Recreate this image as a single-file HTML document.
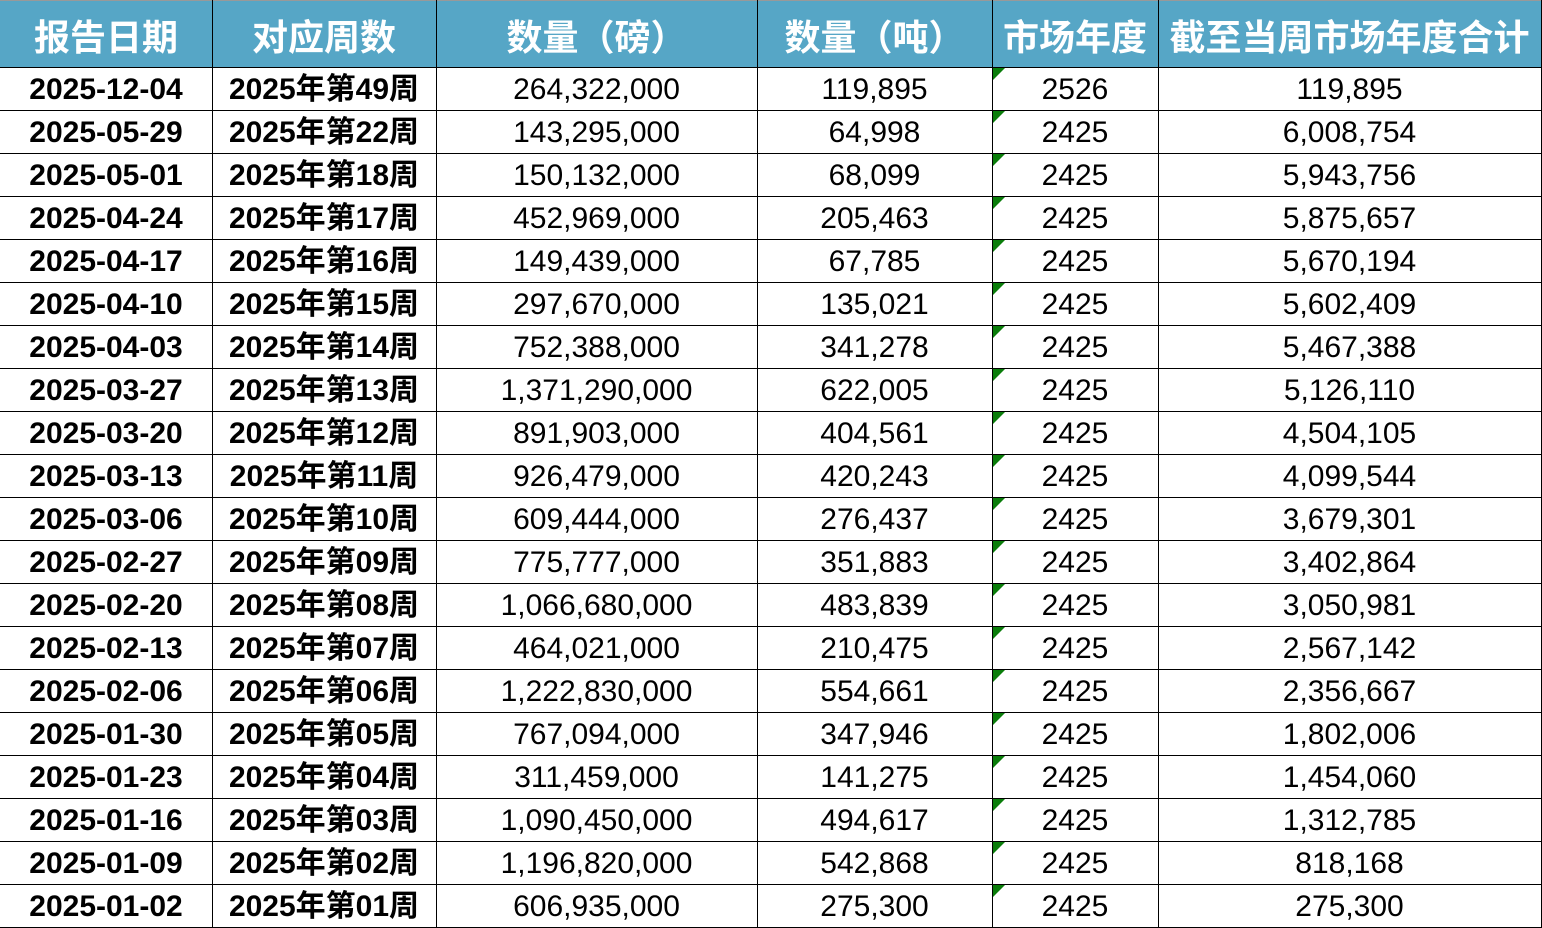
<!DOCTYPE html><html><head><meta charset="utf-8"><style>
body{margin:0;width:1542px;height:928px;background:#fff;overflow:hidden;position:relative;font-family:"Liberation Sans","Noto Sans CJK SC",sans-serif}
.h{position:absolute;top:0;left:0;width:1542px;height:67px;background:#56a6c6;border-top:1px solid #999;box-sizing:border-box}
.c{position:absolute;text-align:center;white-space:nowrap}
.hd{color:#fff;font-weight:bold;font-size:36px;top:9px}
.v{position:absolute;top:0;width:1px;height:928px;background:#000}
.r{position:absolute;left:0;width:1542px;height:1px;background:#000}
.t{position:absolute;width:0;height:0;border-top:12px solid #0a7d0a;border-right:12px solid transparent;left:993px}
.d{font-size:30px;line-height:43px}
.b{font-weight:bold}
</style></head><body>
<div class="h"></div>
<div id="g"></div>
<script>
var cols=[0,212,436,757,992,1158,1541];
var hd=["报告日期","对应周数","数量（磅）","数量（吨）","市场年度","截至当周市场年度合计"];
var data=[["2025-12-04","2025年第49周","264,322,000","119,895","2526","119,895"],
["2025-05-29","2025年第22周","143,295,000","64,998","2425","6,008,754"],
["2025-05-01","2025年第18周","150,132,000","68,099","2425","5,943,756"],
["2025-04-24","2025年第17周","452,969,000","205,463","2425","5,875,657"],
["2025-04-17","2025年第16周","149,439,000","67,785","2425","5,670,194"],
["2025-04-10","2025年第15周","297,670,000","135,021","2425","5,602,409"],
["2025-04-03","2025年第14周","752,388,000","341,278","2425","5,467,388"],
["2025-03-27","2025年第13周","1,371,290,000","622,005","2425","5,126,110"],
["2025-03-20","2025年第12周","891,903,000","404,561","2425","4,504,105"],
["2025-03-13","2025年第11周","926,479,000","420,243","2425","4,099,544"],
["2025-03-06","2025年第10周","609,444,000","276,437","2425","3,679,301"],
["2025-02-27","2025年第09周","775,777,000","351,883","2425","3,402,864"],
["2025-02-20","2025年第08周","1,066,680,000","483,839","2425","3,050,981"],
["2025-02-13","2025年第07周","464,021,000","210,475","2425","2,567,142"],
["2025-02-06","2025年第06周","1,222,830,000","554,661","2425","2,356,667"],
["2025-01-30","2025年第05周","767,094,000","347,946","2425","1,802,006"],
["2025-01-23","2025年第04周","311,459,000","141,275","2425","1,454,060"],
["2025-01-16","2025年第03周","1,090,450,000","494,617","2425","1,312,785"],
["2025-01-09","2025年第02周","1,196,820,000","542,868","2425","818,168"],
["2025-01-02","2025年第01周","606,935,000","275,300","2425","275,300"]];
var h="";
for(var i=0;i<6;i++){h+='<div class="c hd" style="left:'+cols[i]+'px;width:'+(cols[i+1]-cols[i])+'px">'+hd[i]+'</div>';}
for(var i=1;i<6;i++)h+='<div class="v" style="left:'+cols[i]+'px"></div>';
h+='<div class="v" style="left:1541px"></div>';
for(var r=0;r<20;r++){var y=67+r*43;
h+='<div class="r" style="top:'+y+'px"></div>';
h+='<div class="t" style="top:'+(y+1)+'px"></div>';
for(var i=0;i<6;i++){h+='<div class="c d'+(i<2?' b':'')+'" style="top:'+(y+1)+'px;left:'+cols[i]+'px;width:'+(cols[i+1]-cols[i])+'px">'+data[r][i]+'</div>';}}
h+='<div class="r" style="top:927px"></div>';
document.getElementById("g").innerHTML=h;
</script>
</body></html>
